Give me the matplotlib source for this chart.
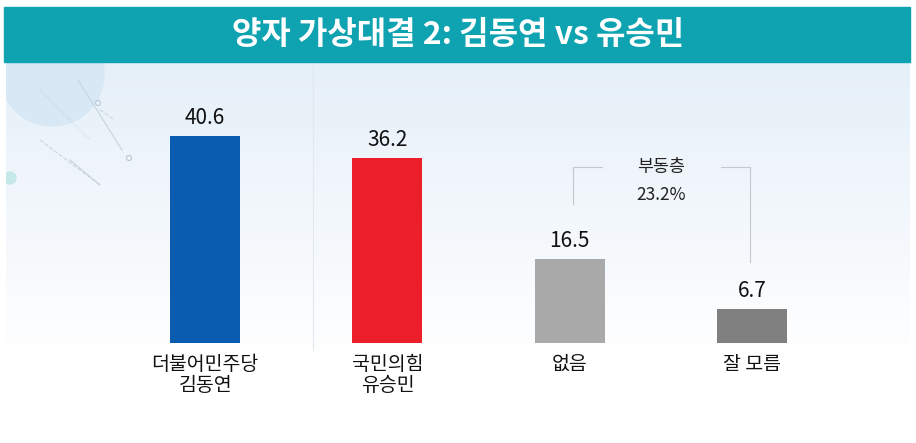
import numpy as np
import matplotlib.pyplot as plt
from matplotlib.patches import Rectangle, Circle
from matplotlib.lines import Line2D

plt.rcParams['font.family'] = ['Noto Sans CJK KR', 'DejaVu Sans']

title = '양자 가상대결 2: 김동연 vs 유승민'
categories = ['더불어민주당\n김동연', '국민의힘\n유승민', '없음', '잘 모름']
values = [40.6, 36.2, 16.5, 6.7]
bar_colors = ['#0a5cb0', '#ec1e2a', '#a9a9a9', '#808080']
floating_label = '부동층'
floating_value = 23.2

W, H = 916, 443
fig = plt.figure(figsize=(W / 100, H / 100), dpi=100)
fig.patch.set_facecolor('white')

# background layer in pixel coordinates
bg = fig.add_axes([0, 0, 1, 1])
bg.set_xlim(0, W)
bg.set_ylim(H, 0)
bg.axis('off')

# light blue panel fading to white
grad = np.linspace(0, 1, 256).reshape(-1, 1)
top_c = np.array([0.90, 0.94, 0.975])
bot_c = np.array([1.0, 1.0, 1.0])
img = top_c * (1 - grad[..., None]) + bot_c * grad[..., None]
bg.imshow(img, extent=(6, 910, 360, 62), aspect='auto', zorder=0)
panel = Rectangle((6, 62), 904, 298, fill=False, lw=0, transform=bg.transData)

# decorative shapes top-left (clipped to the panel)
deco = [Circle((52, 74), 52, color='#d8e8f5', zorder=1),
        Circle((10, 178), 6, color='#c6e8e8', zorder=1),
        Circle((98, 103), 2.5, fill=False, ec='#b8c8d4', lw=0.8, zorder=1),
        Circle((129, 158), 2.5, fill=False, ec='#b8c8d4', lw=0.8, zorder=1)]
for p in deco:
    bg.add_patch(p)
    p.set_clip_path(panel)
for (x0, y0, x1, y1, ls) in [(78, 80, 122, 150, '-'), (40, 140, 100, 185, '--'),
                             (70, 160, 100, 185, '-'), (100, 110, 115, 120, '--'),
                             (40, 90, 90, 140, ':')]:
    bg.add_line(Line2D([x0, x1], [y0, y1], color='#c8d4dc', lw=0.8, ls=ls, zorder=1))

# title banner
bg.add_patch(Rectangle((4, 6.5), 906, 55.5, color='#0fa3b1', zorder=5))
bg.text(458, 35, title, color='white', fontsize=23, fontweight='bold',
        ha='center', va='center', zorder=6)

# faint divider
bg.add_line(Line2D([313, 313], [62, 350], color='#e2e8ee', lw=0.8, zorder=1))

# bar axes: baseline at y=343px, top at 62px, centers 205..752
ax_left, ax_w = 114, 729
ax_bottom, ax_h = H - 343, 343 - 62
ax = fig.add_axes([ax_left / W, ax_bottom / H, ax_w / W, ax_h / H])
ax.patch.set_alpha(0)
px = 207 / 40.6  # pixels per percentage point
ax.set_xlim(-0.5, 3.5)
ax.set_ylim(0, ax_h / px)
ax.axis('off')

x = np.arange(len(values))
ax.bar(x, values, width=0.384, color=bar_colors, zorder=3)
for xi, v in zip(x, values):
    ax.annotate(f'{v}', (xi, v), xytext=(0, 5), textcoords='offset points',
                ha='center', va='bottom', fontsize=15, color='#111111')
for xi, lab in zip(x, categories):
    ax.annotate(lab, (xi, 0), xytext=(0, -8), textcoords='offset points',
                ha='center', va='top', fontsize=14, color='#111111',
                linespacing=1.0, annotation_clip=False)

# floating-voter bracket
yb = (343 - 167) / px
xl, xr = 2.017, 2.99
mid = (xl + xr) / 2
lc = '#c3c9ce'
ax.plot([xl, xl], [(343 - 204) / px, yb], color=lc, lw=0.8)
ax.plot([xl, xl + 0.16], [yb, yb], color=lc, lw=0.8)
ax.plot([xr - 0.16, xr], [yb, yb], color=lc, lw=0.8)
ax.plot([xr, xr], [yb, (343 - 262) / px], color=lc, lw=0.8)
ax.text(mid, yb, floating_label, ha='center', va='center', fontsize=12.5, color='#222222')
ax.text(mid, yb - 28 / px, f'{floating_value}%', ha='center', va='center',
        fontsize=12.5, color='#222222')

fig.savefig('out.png', dpi=100)
